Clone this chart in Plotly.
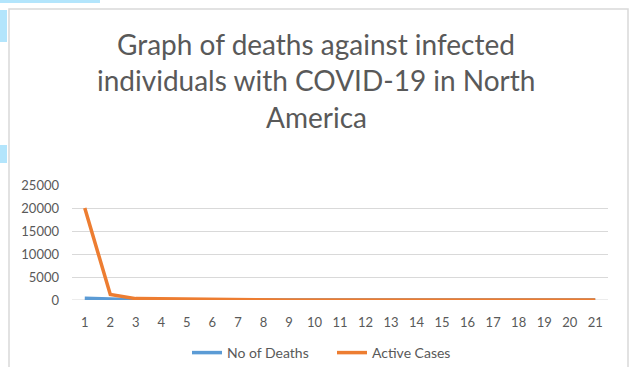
import plotly.graph_objects as go

days = [str(i) for i in range(1, 22)]
deaths = [400, 200, 50, 20, 10, 5, 3, 2, 2, 1, 1, 1, 1, 1, 1, 1, 1, 1, 1, 1, 1]
active = [20000, 1200, 300, 250, 50, 20, 10, 8, 6, 5, 5, 4, 4, 3, 3, 3, 2, 2, 2, 2, 2]
y_ticks = [0, 5000, 10000, 15000, 20000, 25000]
title_lines = ["Graph of deaths against infected",
               "individuals with COVID-19 in North",
               "America"]

W, H = 631, 367
L, R, T, B = 72, 23, 185, 67
pw, ph = W - L - R, H - T - B

def px(x):
    return (x - L) / pw

def py(y):
    return (H - B - y) / ph

fig = go.Figure()
fig.add_trace(go.Scatter(x=days, y=deaths, mode="lines", name="No of Deaths",
                         line=dict(color="#5b9bd5", width=3.5)))
fig.add_trace(go.Scatter(x=days, y=active, mode="lines", name="Active Cases",
                         line=dict(color="#ed7d31", width=3.5)))

title_y = [44, 80, 117]
annotations = [
    dict(text=t, xref="paper", yref="paper", x=px(316), y=py(yy), xanchor="center",
         yanchor="middle", showarrow=False, font=dict(size=28, color="#595959"))
    for t, yy in zip(title_lines, title_y)
]

fig.update_layout(
    width=W, height=H,
    margin=dict(l=L, r=R, t=T, b=B, autoexpand=False),
    paper_bgcolor="white", plot_bgcolor="white",
    font=dict(family="Lato, Open Sans, sans-serif", color="#595959", size=13),
    annotations=annotations,
    showlegend=True,
    legend=dict(orientation="h", x=px(332), xanchor="center", yref="container",
                y=1 - 353 / H, yanchor="middle",
                font=dict(size=14, color="#595959"),
                entrywidth=100, entrywidthmode="pixels"),
    xaxis=dict(type="category", range=[-0.5, 20.5], showgrid=False, zeroline=False,
               showline=False, ticks="", tickfont=dict(size=13, color="#595959"),
               ticklabelstandoff=13, automargin=False, fixedrange=True),
    yaxis=dict(range=[0, 25000], tickvals=y_ticks, ticktext=[str(v) for v in y_ticks],
               showgrid=True, gridcolor="#d9d9d9", gridwidth=1, zeroline=False,
               showline=False, ticks="", tickfont=dict(size=13, color="#595959"),
               ticklabelstandoff=12, automargin=False, fixedrange=True),
    shapes=[
        dict(type="rect", xref="paper", yref="paper", x0=px(9), x1=px(628), y0=py(372), y1=py(9),
             line=dict(color="#d9d9d9", width=1.5), fillcolor="rgba(0,0,0,0)", layer="below"),
        dict(type="line", xref="paper", yref="y", x0=0, x1=1, y0=0, y1=0,
             line=dict(color="#d9d9d9", width=1), layer="below"),
        dict(type="rect", xref="paper", yref="paper", x0=px(0), x1=px(100), y0=py(3), y1=py(0),
             line=dict(width=0), fillcolor="#b3e5fc"),
        dict(type="rect", xref="paper", yref="paper", x0=px(0), x1=px(7), y0=py(42), y1=py(10),
             line=dict(width=0), fillcolor="#b3e5fc"),
        dict(type="rect", xref="paper", yref="paper", x0=px(0), x1=px(7), y0=py(163), y1=py(145),
             line=dict(width=0), fillcolor="#b3e5fc"),
    ],
)

fig.write_html("out.html", config={"displayModeBar": False},
               post_script="document.body.style.margin='0';document.body.style.padding='0';")
